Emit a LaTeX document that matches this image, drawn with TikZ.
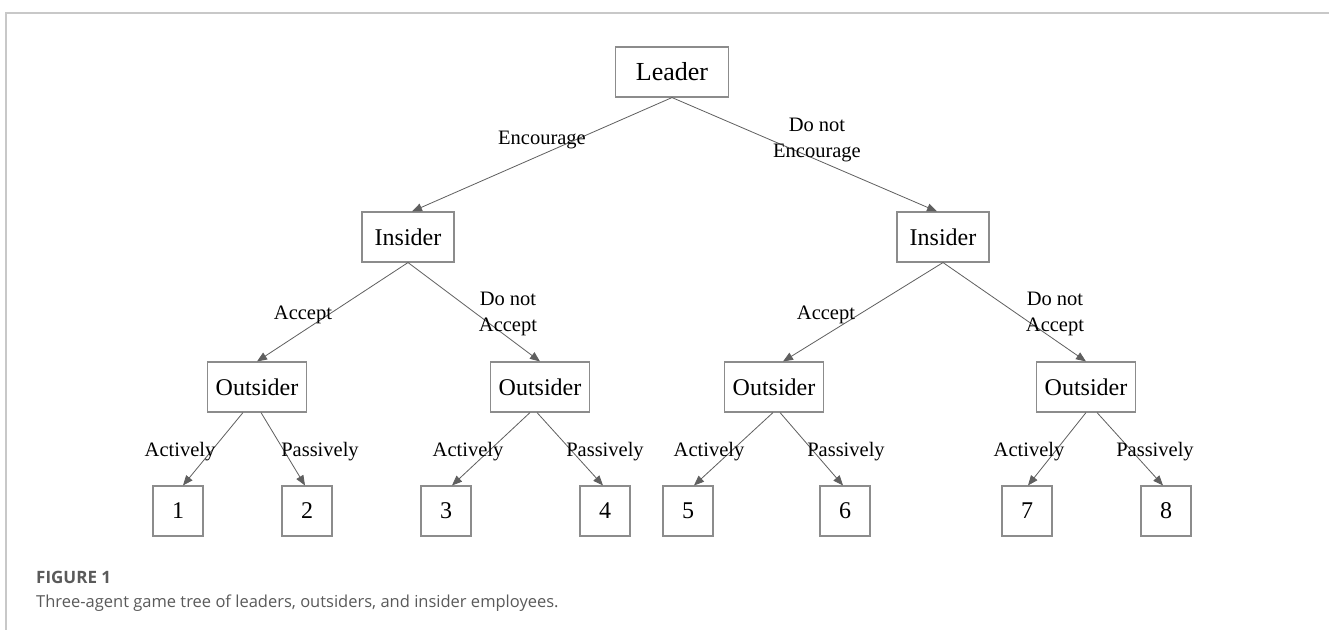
\documentclass[tikz,border=0pt]{standalone}
\usepackage{fontspec}
\setmainfont{Liberation Serif}
\newfontfamily\capfont{Open Sans}
\usetikzlibrary{arrows.meta}
\definecolor{linegray}{RGB}{95,95,95}
\definecolor{boxgray}{RGB}{140,140,140}
\definecolor{framegray}{RGB}{200,200,200}
\definecolor{capgray}{RGB}{90,90,90}
\begin{document}
\begin{tikzpicture}[x=1pt,y=-1pt,
  box/.style={draw=boxgray,line width=1.1pt,inner sep=0pt,minimum height=50pt,font=\fontsize{24}{28}\selectfont},
  leaf/.style={box,minimum width=50pt},
  lbl/.style={inner sep=0pt,font=\fontsize{20.5}{26}\selectfont,align=center},
  conn/.style={draw=linegray,line width=0.8pt,-{Triangle[length=10pt,width=8pt]}},
  captitle/.style={anchor=base west,inner sep=0pt,text=capgray,font=\capfont\bfseries\fontsize{17}{20}\selectfont},
  captext/.style={anchor=base west,inner sep=0pt,text=capgray,font=\capfont\fontsize{16.5}{20}\selectfont}]
\useasboundingbox (0,0) rectangle (1329,630);
\fill[white] (0,0) rectangle (1329,630);
\draw[framegray,line width=2pt] (1329,13) -- (6,13) -- (6,630);

% decision nodes
\node[box,minimum width=113pt,font=\fontsize{26}{30}\selectfont] (leader) at (672,72) {Leader};
\node[box,minimum width=92pt] (insL) at (408,237) {Insider};
\node[box,minimum width=92pt] (insR) at (943,237) {Insider};
\node[box,minimum width=99pt] (out1) at (257,387) {Outsider};
\node[box,minimum width=99pt] (out2) at (540,387) {Outsider};
\node[box,minimum width=99pt] (out3) at (774,387) {Outsider};
\node[box,minimum width=99pt] (out4) at (1086,387) {Outsider};

% leaves
\node[leaf] (l1) at (178,511) {1};
\node[leaf] (l2) at (307,511) {2};
\node[leaf] (l3) at (446,511) {3};
\node[leaf] (l4) at (605,511) {4};
\node[leaf] (l5) at (688,511) {5};
\node[leaf] (l6) at (845,511) {6};
\node[leaf] (l7) at (1027,511) {7};
\node[leaf] (l8) at (1166,511) {8};

% connectors
\draw[conn] (leader.south) -- ([xshift=4pt]insL.north);
\draw[conn] (leader.south) -- ([xshift=-6pt]insR.north);
\draw[conn] (insL.south) -- (out1.north);
\draw[conn] (insL.south) -- (out2.north);
\draw[conn] (insR.south) -- ([xshift=9pt]out3.north);
\draw[conn] (insR.south) -- (out4.north);
\draw[conn] ([xshift=-14pt]out1.south) -- ([xshift=5pt]l1.north);
\draw[conn] ([xshift=4pt]out1.south) -- ([xshift=-2pt]l2.north);
\draw[conn] ([xshift=-10pt]out2.south) -- ([xshift=6pt]l3.north);
\draw[conn] ([xshift=-3pt]out2.south) -- ([xshift=-2pt]l4.north);
\draw[conn] ([xshift=-1pt]out3.south) -- ([xshift=6pt]l5.north);
\draw[conn] ([xshift=6pt]out3.south) -- ([xshift=-2pt]l6.north);
\draw[conn] (out4.south) -- ([xshift=1pt]l7.north);
\draw[conn] ([xshift=11pt]out4.south) -- ([xshift=-3pt]l8.north);

% labels
\node[lbl,anchor=base] (e1) at (542,144) {Encourage};
\node[lbl,anchor=north] (e2) at (817,118) {Do not\\Encourage};
\node[lbl,anchor=base] (a1) at (303,319) {Accept};
\node[lbl,anchor=north] (a2) at (508,292) {Do not\\Accept};
\node[lbl,anchor=base] (a3) at (826,319) {Accept};
\node[lbl,anchor=north] (a4) at (1055,292) {Do not\\Accept};
\node[lbl,anchor=base] (p1) at (180,456) {Actively};
\node[lbl,anchor=base] (p2) at (320,456) {Passively};
\node[lbl,anchor=base] (p3) at (468,456) {Actively};
\node[lbl,anchor=base] (p4) at (605,456) {Passively};
\node[lbl,anchor=base] (p5) at (709,456) {Actively};
\node[lbl,anchor=base] (p6) at (846,456) {Passively};
\node[lbl,anchor=base] (p7) at (1029,456) {Actively};
\node[lbl,anchor=base] (p8) at (1155,456) {Passively};

% caption
\node[captitle] (figlbl) at (36,583) {FIGURE 1};
\node[captext] (figcap) at (36,607) {Three-agent game tree of leaders, outsiders, and insider employees.};
\end{tikzpicture}
\end{document}
